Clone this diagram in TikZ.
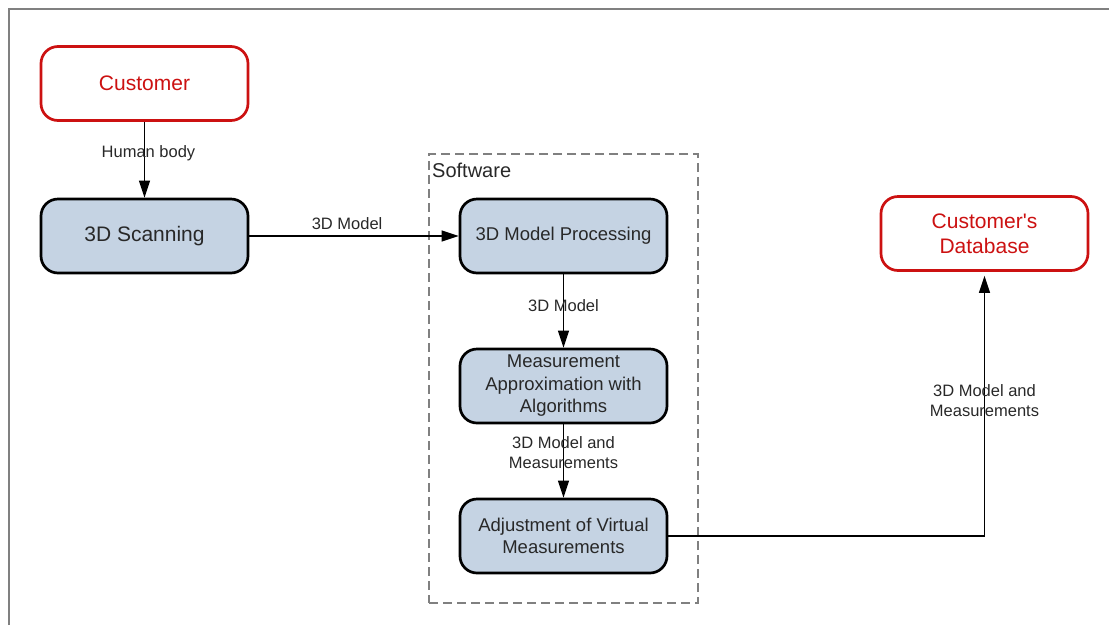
\documentclass[tikz,border=0pt]{standalone}
\usepackage{fontspec}
\setmainfont{Liberation Sans}
\usepackage{xcolor}
\usetikzlibrary{arrows.meta}
\definecolor{boxblue}{RGB}{197,211,227}
\definecolor{custred}{RGB}{204,17,17}
\definecolor{txtgray}{RGB}{40,40,40}
\definecolor{framegray}{RGB}{128,128,128}
\tikzset{
  procbox/.style={draw=black, line width=2.7pt, fill=boxblue, rounded corners=17pt,
    minimum width=207pt, minimum height=74pt, inner sep=0pt, align=center,
    text=txtgray, font=\fontsize{18.5}{22.5}\selectfont},
  endbox/.style={draw=custred, line width=2.7pt, fill=white, rounded corners=17pt,
    minimum width=207pt, minimum height=74pt, inner sep=0pt, align=center,
    text=custred, font=\fontsize{21}{25}\selectfont},
  conn/.style={line width=1.3pt, -{Triangle[length=17pt,width=11pt]}},
  lbl/.style={text=txtgray, align=center, inner sep=0pt, font=\fontsize{16.5}{20}\selectfont}
}
\begin{document}
\begin{tikzpicture}[x=1pt,y=-1pt]
\useasboundingbox (0,0) rectangle (1109,625);
\draw [framegray, line width=2pt] (9,625) -- (9,9) -- (1109,9);
% software group
\node (swbox) [draw=framegray, line width=1.3pt, dash pattern=on 9pt off 5pt,
  minimum width=269pt, minimum height=449pt, inner sep=0pt] at (563.5,378.5) {};
\node (swlabel) [anchor=west, text=txtgray, inner sep=0pt,
  font=\fontsize{20}{24}\selectfont] at (432,170) {Software};
% boxes
\node (cust) [endbox] at (144.5,83.5) {Customer};
\node (scan) [procbox, font=\fontsize{21}{25}\selectfont] at (144.5,236) {3D Scanning};
\node (proc) [procbox] at (563.5,236) {3D Model Processing};
\node (meas) [procbox] at (563.5,386) {Measurement\\Approximation with\\Algorithms};
\node (adj) [procbox] at (563.5,536) {Adjustment of Virtual\\Measurements};
\node (db) [endbox] at (984.5,233.5) {Customer\textquotesingle s\\Database};
% connectors
\draw [conn] (cust) -- (scan) node [lbl, pos=0.41, xshift=4pt] {Human body};
\draw [conn] (scan) -- (proc) node [lbl, pos=0.467, yshift=12pt] {3D Model};
\draw [conn] (proc) -- (meas) node [lbl, pos=0.43] {3D Model};
\draw [conn] (meas) -- (adj) node [lbl, pos=0.38] {3D Model and\\Measurements};
\draw [conn, shorten >=4pt] (adj.east) -| (db.south)
  node [lbl, pos=0.756] {3D Model and\\Measurements};
\end{tikzpicture}
\end{document}
